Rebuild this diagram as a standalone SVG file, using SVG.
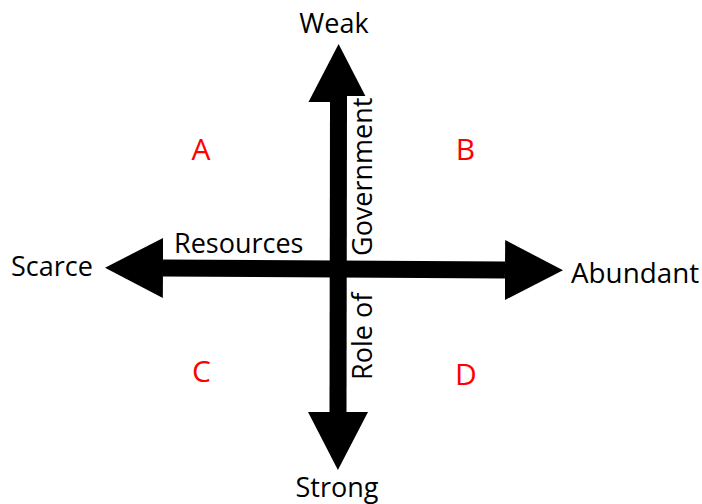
<svg xmlns="http://www.w3.org/2000/svg" width="702" height="504" viewBox="0 0 702 504">
  <style>
    .lbl { font-family: "Open Sans", "Liberation Sans", sans-serif; font-size: 27px; fill: #000; }
    .q { font-family: "Open Sans", "Liberation Sans", sans-serif; font-size: 30px; fill: #FF0000; text-anchor: middle; }
    .axis { stroke: #000; stroke-width: 17; fill: none; }
  </style>
  <defs>
    <marker id="head" markerUnits="userSpaceOnUse" markerWidth="58" markerHeight="60" refX="0" refY="30" orient="auto-start-reverse" viewBox="0 0 58 60">
      <path d="M0,0 L58,30 L0,60 Z" fill="#000"/>
    </marker>
  </defs>
  <rect width="702" height="504" fill="#fff"/>
  <g id="connectors">
    <line class="axis" x1="163" y1="268" x2="505" y2="270" marker-start="url(#head)" marker-end="url(#head)"/>
    <line class="axis" x1="338.5" y1="102" x2="338" y2="412" marker-start="url(#head)" marker-end="url(#head)"/>
  </g>
  <g id="weak"><text class="lbl" x="334" y="33" text-anchor="middle">Weak</text></g>
  <g id="strong"><text class="lbl" x="337" y="497" text-anchor="middle">Strong</text></g>
  <g id="scarce"><text class="lbl" x="11" y="276">Scarce</text></g>
  <g id="abundant"><text class="lbl" x="571" y="283" style="font-size:27.8px">Abundant</text></g>
  <g id="resources"><text class="lbl" x="174" y="253">Resources</text></g>
  <g id="government">
    <rect x="347" y="96" width="28" height="162" fill="#fff"/>
    <text class="lbl" transform="translate(372,256) rotate(-90)">Government</text>
  </g>
  <g id="role-of"><text class="lbl" transform="translate(372,380) rotate(-90)">Role of</text></g>
  <g id="quadrant-a"><text class="q" x="201" y="160">A</text></g>
  <g id="quadrant-b"><text class="q" x="465.5" y="160">B</text></g>
  <g id="quadrant-c"><text class="q" x="201.5" y="382">C</text></g>
  <g id="quadrant-d"><text class="q" x="466" y="385">D</text></g>
</svg>
